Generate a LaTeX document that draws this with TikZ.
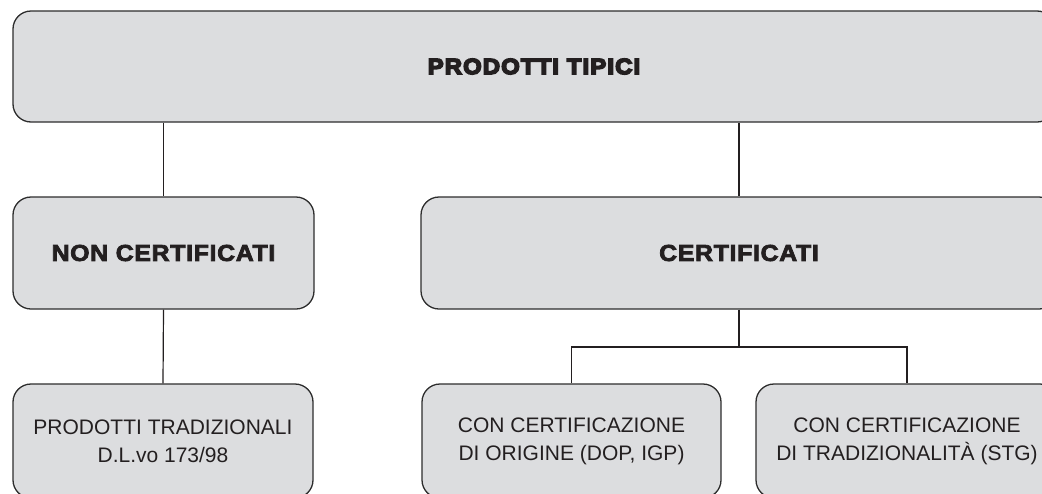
\documentclass[tikz,border=0pt]{standalone}
\usepackage{fontspec}
\setmainfont{Liberation Sans}
\newfontfamily\heavyfont{Liberation Sans Bold}[FakeStretch=1.08,LetterSpace=3]
\newfontfamily\blackfont{Liberation Sans Bold}[FakeStretch=1.08,LetterSpace=5.5]
% stroked glyphs for the heavier captions
\newcommand\inked[2]{\special{pdf:literal direct 2 Tr #1 w}#2\special{pdf:literal direct 0 Tr}}
\definecolor{boxfill}{RGB}{220,221,223}
\definecolor{boxline}{RGB}{45,45,45}
\definecolor{inkcol}{RGB}{35,31,32}
\begin{document}
\begin{tikzpicture}[x=1pt,y=-1pt,
    box/.style={draw=boxline,line width=1.3pt,fill=boxfill,rounded corners=18pt,
      text=inkcol,align=center,inner sep=0pt},
    headbox/.style={box,font=\blackfont\fontsize{22}{26}\selectfont},
    groupbox/.style={box,font=\heavyfont\fontsize{23}{27}\selectfont},
    leafbox/.style={box,font=\fontsize{21}{28}\selectfont},
    link/.style={draw=inkcol,line width=1.2pt}]
    \useasboundingbox (0,0) rectangle (1042,493);
    % top level
    \node[headbox,minimum width=1042pt,minimum height=111pt] (tipici) at (534,66.5) {\inked{1.6}{PRODOTTI TIPICI}};
    % second level
    \node[groupbox,minimum width=301pt,minimum height=112pt] (noncert) at (163.5,253) {\inked{0.8}{NON CERTIFICATI}};
    \node[groupbox,minimum width=636pt,minimum height=112pt] (cert) at (739,253) {\inked{0.8}{CERTIFICATI}};
    % third level
    \node[leafbox,minimum width=300pt,minimum height=114pt] (tradiz) at (163,441) {PRODOTTI TRADIZIONALI\\D.L.vo 173/98};
    \node[leafbox,minimum width=299pt,minimum height=114pt] (origine) at (571.5,441) {CON CERTIFICAZIONE\\DI ORIGINE (DOP, IGP)};
    \node[leafbox,minimum width=302pt,minimum height=114pt] (stg) at (907,441) {CON CERTIFICAZIONE\\DI TRADIZIONALITÀ (STG)};
    \coordinate (split) at (739,347);
    \draw[link] (tipici.south -| noncert) -- (noncert.north);
    \draw[link] (tipici.south -| cert) -- (cert.north);
    \draw[link] (noncert.south) -- (tradiz.north);
    \draw[link] (cert.south) -- (split);
    \draw[link] (origine.north) |- (split) -| (stg.north);
\end{tikzpicture}
\end{document}
